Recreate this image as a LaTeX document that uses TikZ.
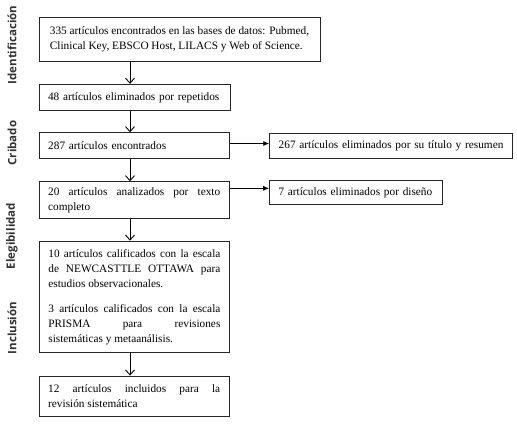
\documentclass[tikz,border=0pt]{standalone}
\usepackage{fontspec}
\setmainfont{Liberation Serif}
\newfontfamily\sidefont{Open Sans}
\usetikzlibrary{arrows.meta}
\begin{document}
\begin{tikzpicture}[x=1pt,y=-1pt,
  box/.style={draw=black!85,line width=0.9pt,inner xsep=9pt,inner ysep=0pt,align=justify,
    font=\fontsize{11.3}{15}\selectfont,anchor=center,
    execute at begin node={\hyphenpenalty=10000\tolerance=10000\emergencystretch=20pt}},
  varrow/.style={draw=black,line width=0.9pt,-{Straight Barb[length=5pt,width=9pt,line width=0.9pt]}},
  harrow/.style={draw=black,line width=0.8pt,-{Latex[length=6pt,width=5pt]}},
  side/.style={rotate=90,font=\sidefont\bfseries\fontsize{11.5}{13}\selectfont,text=black!80,anchor=center}]
\useasboundingbox (0,0) rectangle (517,424);
\fill[white] (0,0) rectangle (517,424);

\node[box,minimum width=281pt,minimum height=44pt,align=left,inner xsep=0pt] (b1) at (179.5,39)
 {335 artículos encontrados en las bases de datos: Pubmed,\\Clinical Key, EBSCO Host, LILACS y Web of Science.};
\node[box,text width=173pt,minimum height=26.5pt,align=left] (b2) at (134.5,97.5) {48 artículos eliminados por repetidos};
\node[box,text width=172pt,minimum height=25.6pt,align=left] (b3) at (134.2,145.5) {287 artículos encontrados};
\node[box,text width=172pt,minimum height=36.6pt] (b4) at (134.2,200) {20 artículos analizados por texto\linebreak completo};
\node[box,text width=172pt,minimum height=111.7pt] (b5) at (134.4,297)
 {10 artículos calificados con la escala\linebreak de NEWCASTTLE OTTAWA para\linebreak estudios observacionales.\par\vspace{10pt}
  3 artículos calificados con la escala\linebreak PRISMA para revisiones\linebreak sistemáticas y metaanálisis.};
\node[box,text width=172pt,minimum height=40pt] (b6) at (134.2,396) {12 artículos incluidos para la\linebreak revisión sistemática};
\node[box,text width=225pt,minimum height=25pt,align=left] (r1) at (391.2,145.8) {267 artículos eliminados por su título y resumen};
\node[box,text width=155pt,minimum height=23.3pt,align=left] (r2) at (356,192.3) {7 artículos eliminados por diseño};

\coordinate (ax) at (130,0);
\coordinate (hy1) at (0,143.5);
\coordinate (hy2) at (0,188.3);
\draw[varrow] (b1.south -| ax) -- (b2.north -| ax);
\draw[varrow] (b2.south -| ax) -- (b3.north -| ax);
\draw[varrow] (b3.south -| ax) -- (b4.north -| ax);
\draw[varrow] (b4.south -| ax) -- (b5.north -| ax);
\draw[varrow] (b5.south -| ax) -- (b6.north -| ax);
\draw[harrow] (b3.east |- hy1) -- (r1.west |- hy1);
\draw[harrow] (b4.east |- hy2) -- (r2.west |- hy2);

\node[side] (s1) at (12,45) {Identificación};
\node[side] (s2) at (12,143) {Cribado};
\node[side] (s3) at (12,236) {Elegibilidad};
\node[side] (s4) at (12,328) {Inclusión};
\end{tikzpicture}
\end{document}
